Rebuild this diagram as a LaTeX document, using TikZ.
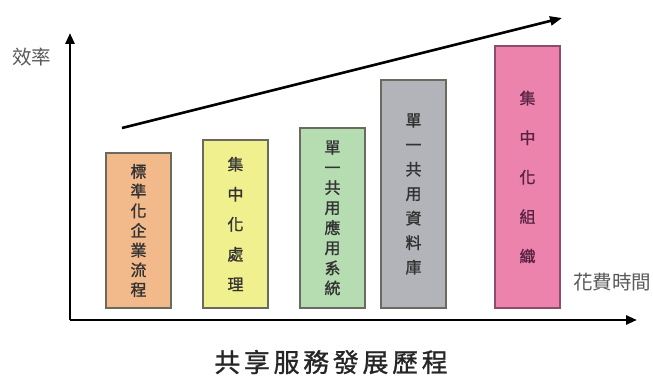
\documentclass[tikz,border=0pt]{standalone}
\usepackage{fontspec}
\newfontfamily\cjk{Noto Sans CJK TC}
\newfontfamily\cjkbox[FakeBold=1.2]{Noto Sans CJK TC}
\newfontfamily\cjktitle[LetterSpace=14,FakeBold=1]{Noto Sans CJK TC}
\usetikzlibrary{arrows.meta}
\definecolor{cOrange}{HTML}{F2B98B}
\definecolor{cYellow}{HTML}{F1F08E}
\definecolor{cGreen}{HTML}{B6DDB1}
\definecolor{cGray}{HTML}{B2B4B9}
\definecolor{cPink}{HTML}{EC83AD}
\definecolor{cEdge}{HTML}{6A6A5E}
\definecolor{cPinkEdge}{HTML}{8C4C6C}
\definecolor{cText}{HTML}{333333}
\definecolor{cPinkText}{HTML}{5A2242}
\tikzset{
  barbox/.style={draw=cEdge, line width=1.2pt, minimum width=65pt, inner sep=0pt, align=center, text=cText},
  axisline/.style={line width=2.8pt, -{Triangle[length=11pt,width=9pt]}},
  trend/.style={line width=2.6pt, -{Triangle[length=12pt,width=9pt]}},
  axlabel/.style={font=\cjk\fontsize{19.5}{22}\selectfont, text=black!65, inner sep=0pt},
}
\begin{document}
\begin{tikzpicture}[x=1pt,y=-1pt]
\useasboundingbox (0,0) rectangle (653,377);
\fill[white] (0,0) rectangle (653,377);
% bars
\node[barbox, fill=cOrange, minimum height=155pt, font=\cjkbox\fontsize{16}{19.7}\selectfont] (b1) at (138.5,230.5) {標\\準\\化\\企\\業\\流\\程};
\node[barbox, fill=cYellow, minimum height=168pt, font=\cjkbox\fontsize{16}{30}\selectfont] (b2) at (235.5,224) {集\\中\\化\\處\\理};
\node[barbox, fill=cGreen, minimum height=180pt, font=\cjkbox\fontsize{16}{20.1}\selectfont] (b3) at (332.5,218) {單\\一\\共\\用\\應\\用\\系\\統};
\node[barbox, fill=cGray, minimum height=228pt, font=\cjkbox\fontsize{16}{24.5}\selectfont] (b4) at (413.5,194) {單\\一\\共\\用\\資\\料\\庫};
\node[barbox, draw=cPinkEdge, fill=cPink, text=cPinkText, minimum height=262pt, font=\cjkbox\fontsize{16}{39.5}\selectfont] (b5) at (527.5,177) {集\\中\\化\\組\\織};
% axes
\coordinate (o) at (70,320);
\coordinate (ytip) at (70,33);
\coordinate (xtip) at (637,320);
\draw[axisline] (o) -- (ytip);
\draw[axisline] (o) -- (xtip);
\node[axlabel] (ylab) at (32,57) {效率};
\node[axlabel] (xlab) at (612,282) {花費時間};
% trend arrow
\coordinate (ts) at (122,128);
\coordinate (te) at (562,18);
\draw[trend] (ts) -- (te);
% title
\node[font=\cjktitle\fontsize{26}{30}\selectfont, text=black!85, inner sep=0pt] (title) at (331,362) {共享服務發展歷程};
\end{tikzpicture}
\end{document}
